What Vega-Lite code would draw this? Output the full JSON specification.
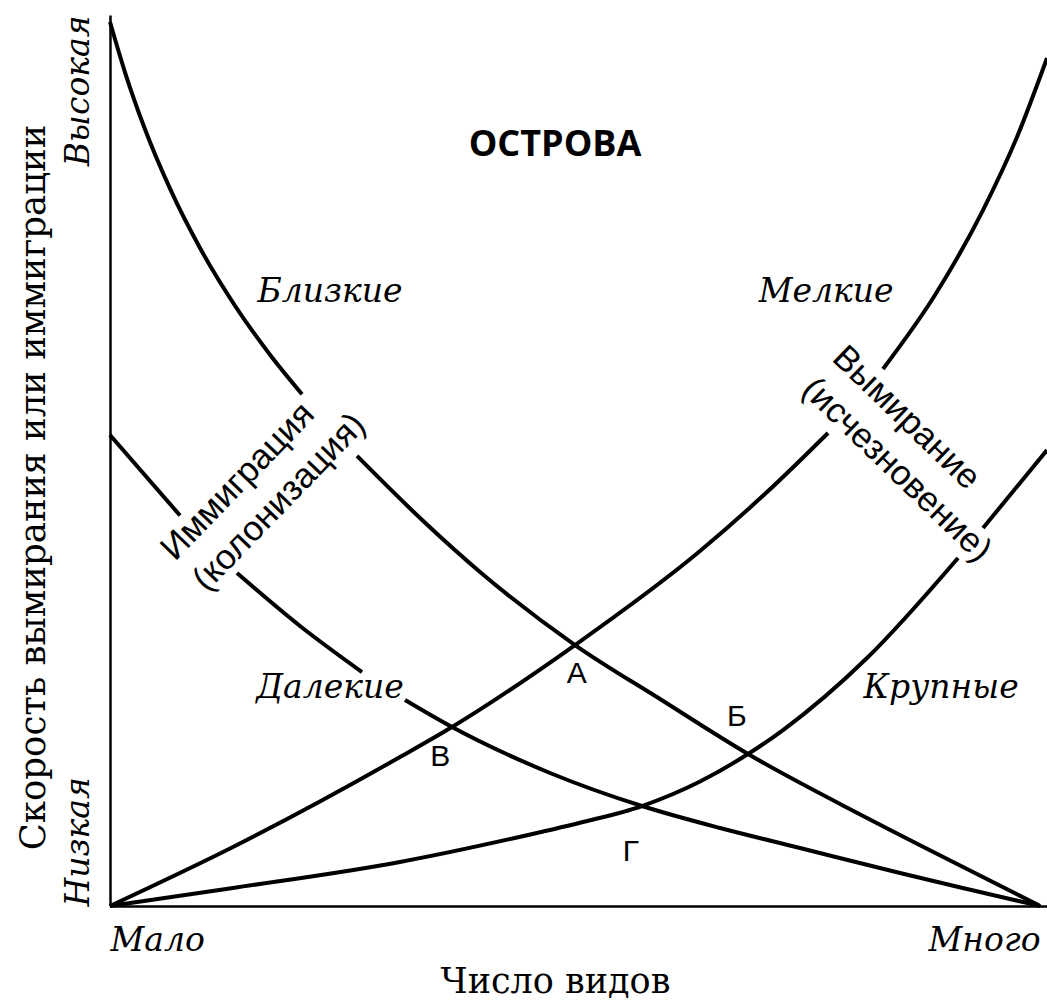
{
  "$schema": "https://vega.github.io/schema/vega-lite/v6.json",
  "autosize": {"type": "none"},
  "padding": {"left": 110, "top": 15, "right": 0, "bottom": 96},
  "width": 937,
  "height": 891,
  "background": "white",
  "config": {"view": {"stroke": null}},
  "datasets": {
    "curves": [
      {"seg": "near1", "species": 0, "rate": 99.21},
      {"seg": "near1", "species": 1.613, "rate": 93.57},
      {"seg": "near1", "species": 3.763, "rate": 87.17},
      {"seg": "near1", "species": 6.452, "rate": 80.51},
      {"seg": "near1", "species": 9.677, "rate": 73.85},
      {"seg": "near1", "species": 13.441, "rate": 67.37},
      {"seg": "near1", "species": 17.204, "rate": 61.87},
      {"seg": "near1", "species": 20.645, "rate": 57.44},
      {"seg": "near2", "species": 26.559, "rate": 50.51},
      {"seg": "near2", "species": 33.333, "rate": 43.55},
      {"seg": "near2", "species": 39.785, "rate": 37.49},
      {"seg": "near2", "species": 50.0, "rate": 29.29},
      {"seg": "near2", "species": 59.14, "rate": 23.23},
      {"seg": "near2", "species": 68.602, "rate": 17.06},
      {"seg": "near2", "species": 81.398, "rate": 9.88},
      {"seg": "near2", "species": 92.151, "rate": 4.15},
      {"seg": "near2", "species": 100, "rate": 0},
      {"seg": "far1", "species": 0, "rate": 52.86},
      {"seg": "far1", "species": 7.527, "rate": 43.83},
      {"seg": "far2", "species": 13.656, "rate": 37.37},
      {"seg": "far2", "species": 20.43, "rate": 31.43},
      {"seg": "far2", "species": 27.097, "rate": 26.26},
      {"seg": "far3", "species": 31.72, "rate": 23.12},
      {"seg": "far3", "species": 36.774, "rate": 20.09},
      {"seg": "far3", "species": 47.312, "rate": 14.93},
      {"seg": "far3", "species": 57.204, "rate": 11.22},
      {"seg": "far3", "species": 65.591, "rate": 8.75},
      {"seg": "far3", "species": 74.194, "rate": 6.51},
      {"seg": "far3", "species": 84.946, "rate": 3.7},
      {"seg": "far3", "species": 92.151, "rate": 1.91},
      {"seg": "far3", "species": 100, "rate": 0},
      {"seg": "small1", "species": 0, "rate": 0},
      {"seg": "small1", "species": 13.226, "rate": 6.62},
      {"seg": "small1", "species": 31.183, "rate": 16.72},
      {"seg": "small1", "species": 36.774, "rate": 20.09},
      {"seg": "small1", "species": 50.0, "rate": 29.29},
      {"seg": "small1", "species": 63.441, "rate": 39.84},
      {"seg": "small1", "species": 70.645, "rate": 46.46},
      {"seg": "small1", "species": 77.204, "rate": 53.09},
      {"seg": "small2", "species": 83.118, "rate": 60.27},
      {"seg": "small2", "species": 88.71, "rate": 68.57},
      {"seg": "small2", "species": 93.871, "rate": 78.11},
      {"seg": "small2", "species": 97.527, "rate": 86.31},
      {"seg": "small2", "species": 100.753, "rate": 95.17},
      {"seg": "large1", "species": 0, "rate": 0},
      {"seg": "large1", "species": 13.226, "rate": 2.02},
      {"seg": "large1", "species": 31.183, "rate": 4.94},
      {"seg": "large1", "species": 43.763, "rate": 7.69},
      {"seg": "large1", "species": 50.538, "rate": 9.35},
      {"seg": "large1", "species": 57.204, "rate": 11.22},
      {"seg": "large1", "species": 63.441, "rate": 13.97},
      {"seg": "large1", "species": 68.602, "rate": 17.06},
      {"seg": "large1", "species": 72.366, "rate": 19.75},
      {"seg": "large1", "species": 81.398, "rate": 27.83},
      {"seg": "large1", "species": 91.183, "rate": 39.06},
      {"seg": "large2", "species": 93.871, "rate": 42.42},
      {"seg": "large2", "species": 100.753, "rate": 51.18}
    ],
    "italicLabels": [
      {"label": "Близкие", "species": 23.66, "rate": 68.9},
      {"label": "Мелкие", "species": 77.0, "rate": 68.9},
      {"label": "Далекие", "species": 23.66, "rate": 24.47},
      {"label": "Крупные", "species": 89.36, "rate": 24.47}
    ],
    "pointLabels": [
      {"label": "А", "species": 50.2, "rate": 26.0},
      {"label": "Б", "species": 67.4, "rate": 21.2},
      {"label": "В", "species": 35.5, "rate": 16.7},
      {"label": "Г", "species": 56.0, "rate": 6.1}
    ],
    "heading": [
      {"label": "ОСТРОВА", "species": 47.85, "rate": 85.41}
    ],
    "immigration": [
      {"label": "Иммиграция\n(колонизация)", "species": 7.0, "rate": 38.6}
    ],
    "extinction": [
      {"label": "Вымирание\n(исчезновение)", "species": 77.5, "rate": 61.3}
    ]
  },
  "layer": [
    {
      "data": {"name": "curves"},
      "mark": {"type": "line", "color": "black", "strokeWidth": 4, "interpolate": "monotone", "strokeCap": "butt"},
      "encoding": {
        "x": {
          "field": "species", "type": "quantitative",
          "scale": {"domain": [0, 100.75], "nice": false, "zero": false},
          "axis": {
            "title": "Число видов",
            "values": [0, 100],
            "labelExpr": "datum.value == 0 ? 'Мало' : 'Много'",
            "labelAlign": {"condition": {"test": "datum.value == 0", "value": "left"}, "value": "right"},
            "labelBaseline": "top",
            "labelPadding": 18,
            "labelFont": "DejaVu Serif",
            "labelFontStyle": "italic",
            "labelFontSize": 33,
            "labelColor": "black",
            "labelOverlap": false,
            "labelFlush": false,
            "ticks": false,
            "tickSize": 0,
            "grid": false,
            "domainColor": "black",
            "domainWidth": 2.5,
            "titleFont": "DejaVu Serif",
            "titleFontSize": 35,
            "titleFontWeight": "normal",
            "titleColor": "black",
            "titleAlign": "center",
            "titleBaseline": "alphabetic",
            "titleX": 445,
            "titleY": 86
          }
        },
        "y": {
          "field": "rate", "type": "quantitative",
          "scale": {"domain": [0, 100], "nice": false, "zero": false},
          "axis": {
            "title": "Скорость вымирания или иммиграции",
            "values": [0, 100],
            "labelExpr": "datum.value == 0 ? 'Низкая' : 'Высокая'",
            "labelAngle": 270,
            "labelAlign": {"condition": {"test": "datum.value == 0", "value": "left"}, "value": "right"},
            "labelBaseline": "alphabetic",
            "labelPadding": 22,
            "labelFont": "DejaVu Serif",
            "labelFontStyle": "italic",
            "labelFontSize": 33,
            "labelColor": "black",
            "labelOverlap": false,
            "labelFlush": false,
            "ticks": false,
            "tickSize": 0,
            "grid": false,
            "domainColor": "black",
            "domainWidth": 2.5,
            "titleFont": "DejaVu Serif",
            "titleFontSize": 35.5,
            "titleFontWeight": "normal",
            "titleColor": "black",
            "titleAngle": 270,
            "titleAlign": "center",
            "titleBaseline": "alphabetic",
            "titleX": -66,
            "titleY": 472
          }
        },
        "detail": {"field": "seg", "type": "nominal"}
      }
    },
    {
      "mark": {"type": "rule", "color": "black", "strokeWidth": 2.5},
      "encoding": {"y": {"datum": 100, "type": "quantitative", "scale": {"domain": [0, 100], "nice": false, "zero": false}}}
    },
    {
      "data": {"name": "italicLabels"},
      "mark": {"type": "text", "font": "DejaVu Serif", "fontStyle": "italic", "fontSize": 33, "color": "black", "align": "center", "baseline": "middle"},
      "encoding": {
        "x": {"field": "species", "type": "quantitative", "scale": {"domain": [0, 100.75], "nice": false, "zero": false}},
        "y": {"field": "rate", "type": "quantitative", "scale": {"domain": [0, 100], "nice": false, "zero": false}},
        "text": {"field": "label"}
      }
    },
    {
      "data": {"name": "pointLabels"},
      "mark": {"type": "text", "font": "Liberation Sans", "fontSize": 30, "color": "black", "align": "center", "baseline": "middle"},
      "encoding": {
        "x": {"field": "species", "type": "quantitative", "scale": {"domain": [0, 100.75], "nice": false, "zero": false}},
        "y": {"field": "rate", "type": "quantitative", "scale": {"domain": [0, 100], "nice": false, "zero": false}},
        "text": {"field": "label"}
      }
    },
    {
      "data": {"name": "heading"},
      "mark": {"type": "text", "font": "Open Sans", "fontWeight": "bold", "fontSize": 36, "color": "black", "align": "center", "baseline": "middle"},
      "encoding": {
        "x": {"field": "species", "type": "quantitative", "scale": {"domain": [0, 100.75], "nice": false, "zero": false}},
        "y": {"field": "rate", "type": "quantitative", "scale": {"domain": [0, 100], "nice": false, "zero": false}},
        "text": {"field": "label"}
      }
    },
    {
      "data": {"name": "immigration"},
      "mark": {"type": "text", "font": "Liberation Sans", "fontSize": 35, "color": "black", "align": "left", "baseline": "alphabetic", "angle": -46, "lineBreak": "\n", "lineHeight": 44},
      "encoding": {
        "x": {"field": "species", "type": "quantitative", "scale": {"domain": [0, 100.75], "nice": false, "zero": false}},
        "y": {"field": "rate", "type": "quantitative", "scale": {"domain": [0, 100], "nice": false, "zero": false}},
        "text": {"field": "label"}
      }
    },
    {
      "data": {"name": "extinction"},
      "mark": {"type": "text", "font": "Liberation Sans", "fontSize": 35, "color": "black", "align": "left", "baseline": "alphabetic", "angle": 44, "lineBreak": "\n", "lineHeight": 44},
      "encoding": {
        "x": {"field": "species", "type": "quantitative", "scale": {"domain": [0, 100.75], "nice": false, "zero": false}},
        "y": {"field": "rate", "type": "quantitative", "scale": {"domain": [0, 100], "nice": false, "zero": false}},
        "text": {"field": "label"}
      }
    }
  ]
}
